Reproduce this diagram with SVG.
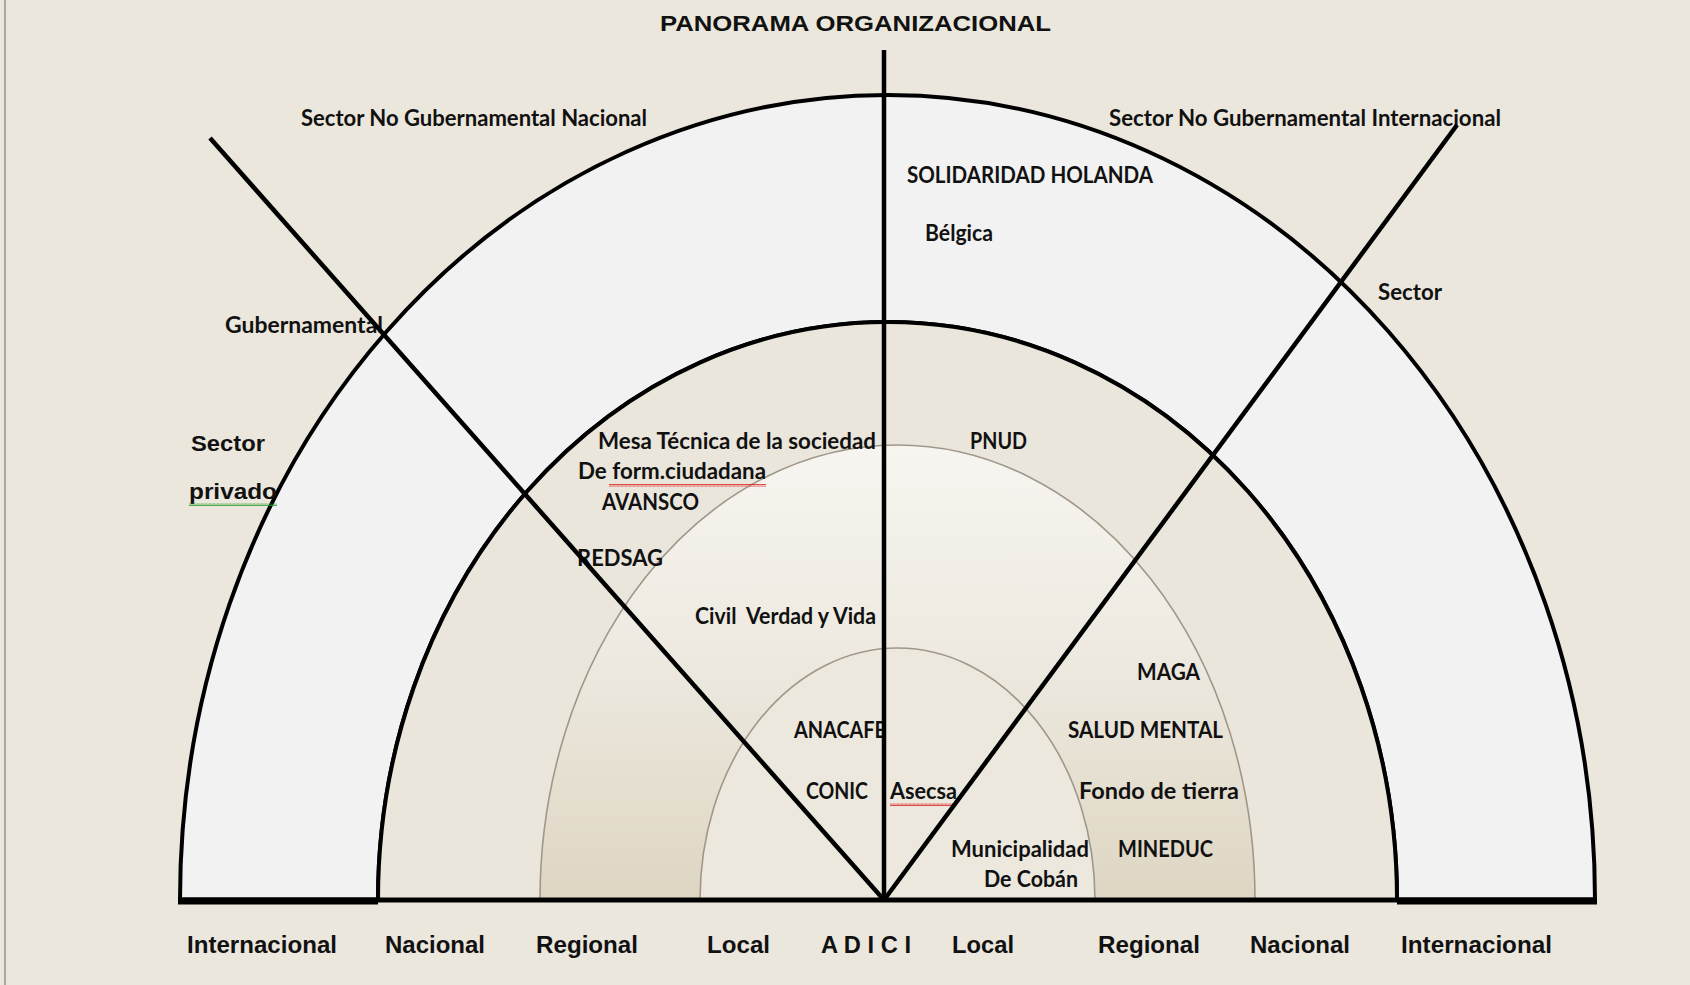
<svg xmlns="http://www.w3.org/2000/svg" width="1690" height="985" viewBox="0 0 1690 985">
<style>
.lbl{font-family:Lato,"Open Sans","Liberation Sans",sans-serif;font-weight:700;font-size:22px;fill:#111;}
.ar{font-family:"Liberation Sans",Arial,sans-serif;font-weight:700;font-size:22px;fill:#111;}
.bot{font-family:"Liberation Sans",Arial,sans-serif;font-weight:700;font-size:24px;fill:#111;}
.bold{stroke:#000;stroke-width:4.5;fill:none;stroke-linecap:butt;}
.thin{stroke:#a0978a;stroke-width:1.6;}
</style>
<defs>
<linearGradient id="g3" gradientUnits="userSpaceOnUse" x1="0" y1="445" x2="0" y2="900">
<stop offset="0" stop-color="#f7f5f0"/>
<stop offset="0.45" stop-color="#eeeae1"/>
<stop offset="1" stop-color="#ded6c3"/>
</linearGradient>
<pattern id="wr" width="4" height="3" patternUnits="userSpaceOnUse"><path d="M0,2.5 L1,0.5 L2,2.5 L3,0.5 L4,2.5" fill="none" stroke="#e02020" stroke-width="0.8"/></pattern>
<pattern id="wg" width="4" height="3" patternUnits="userSpaceOnUse"><path d="M0,2.5 L1,0.5 L2,2.5 L3,0.5 L4,2.5" fill="none" stroke="#2a9a2a" stroke-width="0.8"/></pattern>
</defs>
<rect width="1690" height="985" fill="#ebe7dd"/>
<line x1="5" y1="0" x2="5" y2="985" stroke="#a8a8a8" stroke-width="2"/>

<g id="arches">
<path id="band-outer" d="M180,900 A707.5,805 0 0 1 1595,900 L1397,900 A509.5,578 0 0 0 378,900 Z" fill="#f2f2f2" stroke="#000" stroke-width="4"/>
<path id="arch2" d="M378,900 A509.5,578 0 0 1 1397,900 Z" fill="#ebe6dc" stroke="#000" stroke-width="4"/>
<path id="arch3" d="M540,900 A357.5,455 0 0 1 1255,900 Z" fill="url(#g3)" class="thin"/>
<path id="arch4" d="M700,900 A197.5,252 0 0 1 1095,900 Z" fill="#ece8de" class="thin"/>
</g>

<g id="labels">
<text class="ar" x="660" y="31" textLength="391" lengthAdjust="spacingAndGlyphs" font-size="23">PANORAMA ORGANIZACIONAL</text>
<text class="lbl" x="301" y="126" textLength="346" lengthAdjust="spacingAndGlyphs">Sector No Gubernamental Nacional</text>
<text class="lbl" x="1109" y="126" textLength="392" lengthAdjust="spacingAndGlyphs">Sector No Gubernamental Internacional</text>
<text class="lbl" x="907" y="183" textLength="246" lengthAdjust="spacingAndGlyphs">SOLIDARIDAD HOLANDA</text>
<text class="lbl" x="925" y="241" textLength="68" lengthAdjust="spacingAndGlyphs">Bélgica</text>
<text class="lbl" x="1378" y="300" textLength="64" lengthAdjust="spacingAndGlyphs">Sector</text>
<text class="lbl" x="225" y="333" textLength="158" lengthAdjust="spacingAndGlyphs">Gubernamental</text>
<text class="ar" x="191" y="451" textLength="74" lengthAdjust="spacingAndGlyphs" font-size="23">Sector</text>
<text class="ar" x="189" y="499" textLength="88" lengthAdjust="spacingAndGlyphs" font-size="23">privado</text>
<rect x="189" y="503" width="88" height="3" fill="url(#wg)"/>
<text class="lbl" x="598" y="449" textLength="278" lengthAdjust="spacingAndGlyphs">Mesa Técnica de la sociedad</text>
<text class="lbl" x="578" y="479" textLength="188" lengthAdjust="spacingAndGlyphs">De form.ciudadana</text>
<rect x="609" y="484" width="157" height="3" fill="url(#wr)"/>
<text class="lbl" x="602" y="510" textLength="97" lengthAdjust="spacingAndGlyphs">AVANSCO</text>
<text class="lbl" x="577" y="566" textLength="86" lengthAdjust="spacingAndGlyphs">REDSAG</text>
<text class="lbl" x="695" y="624" textLength="181" lengthAdjust="spacingAndGlyphs">Civil&#160; Verdad y Vida</text>
<text class="lbl" x="970" y="449" textLength="57" lengthAdjust="spacingAndGlyphs">PNUD</text>
<text class="lbl" x="1137" y="680" textLength="63" lengthAdjust="spacingAndGlyphs">MAGA</text>
<text class="lbl" x="1068" y="738" textLength="155" lengthAdjust="spacingAndGlyphs">SALUD MENTAL</text>
<text class="lbl" x="1079" y="799" textLength="160" lengthAdjust="spacingAndGlyphs">Fondo de tierra</text>
<text class="lbl" x="1118" y="857" textLength="95" lengthAdjust="spacingAndGlyphs">MINEDUC</text>
<text class="lbl" x="794" y="738" textLength="92" lengthAdjust="spacingAndGlyphs">ANACAFE</text>
<text class="lbl" x="806" y="799" textLength="62" lengthAdjust="spacingAndGlyphs">CONIC</text>
<text class="lbl" x="890" y="799" textLength="67" lengthAdjust="spacingAndGlyphs">Asecsa</text>
<rect x="890" y="803" width="67" height="3" fill="url(#wr)"/>
<text class="lbl" x="951" y="857" textLength="138" lengthAdjust="spacingAndGlyphs">Municipalidad</text>
<text class="lbl" x="984" y="887" textLength="94" lengthAdjust="spacingAndGlyphs">De Cobán</text>
</g>

<g id="connectors">
<line class="bold" x1="884" y1="50" x2="884" y2="900"/>
<line class="bold" x1="210" y1="138" x2="884" y2="900"/>
<line class="bold" x1="884" y1="900" x2="1457" y2="125"/>
<line x1="180" y1="900" x2="1597" y2="900" stroke="#000" stroke-width="5"/>
<line x1="178" y1="901" x2="378" y2="901" stroke="#000" stroke-width="7"/>
<line x1="1397" y1="901" x2="1597" y2="901" stroke="#000" stroke-width="7"/>
</g>

<g id="axis-labels">
<text class="bot" x="187" y="953" textLength="150" lengthAdjust="spacingAndGlyphs">Internacional</text>
<text class="bot" x="385" y="953" textLength="100" lengthAdjust="spacingAndGlyphs">Nacional</text>
<text class="bot" x="536" y="953" textLength="102" lengthAdjust="spacingAndGlyphs">Regional</text>
<text class="bot" x="707" y="953" textLength="63" lengthAdjust="spacingAndGlyphs">Local</text>
<text class="bot" x="821" y="953" textLength="90" lengthAdjust="spacingAndGlyphs">A D I C I</text>
<text class="bot" x="952" y="953" textLength="62" lengthAdjust="spacingAndGlyphs">Local</text>
<text class="bot" x="1098" y="953" textLength="102" lengthAdjust="spacingAndGlyphs">Regional</text>
<text class="bot" x="1250" y="953" textLength="100" lengthAdjust="spacingAndGlyphs">Nacional</text>
<text class="bot" x="1401" y="953" textLength="151" lengthAdjust="spacingAndGlyphs">Internacional</text>
</g>
</svg>
